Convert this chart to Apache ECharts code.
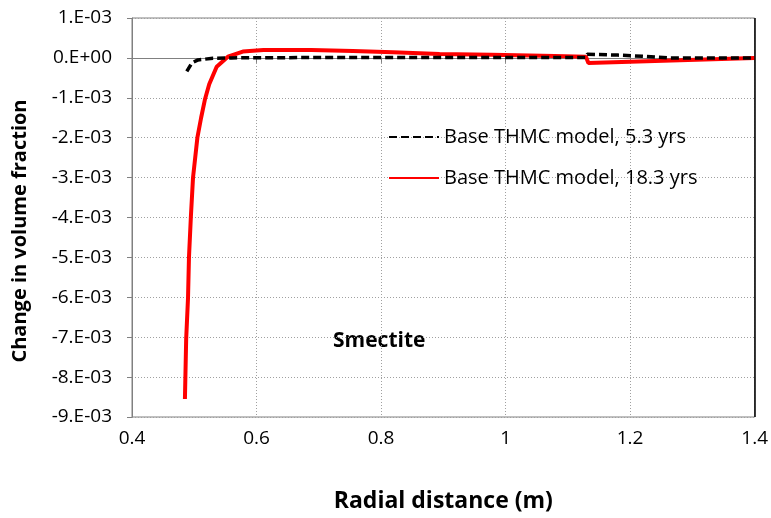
<!DOCTYPE html>
<html>
<head>
<meta charset="utf-8">
<script src="https://cdn.jsdelivr.net/npm/echarts@6/dist/echarts.min.js"></script>
<style>html,body{margin:0;padding:0;background:#fff}#c{width:771px;height:518px}</style>
</head>
<body>
<div id="c"></div>
<script>
// Radial distance (m) and change in volume fraction
const seriesNames = ['Base THMC model, 5.3 yrs', 'Base THMC model, 18.3 yrs'];
const x53 = [0.488, 0.496, 0.506, 0.53, 0.56, 0.7, 0.9, 1.1, 1.129, 1.131, 1.18, 1.22, 1.26, 1.3, 1.4];
const y53 = [-0.00034, -0.00013, -0.00005, -0.00001, 0.0, 0.00001, 0.00001, 0.00001, 0.00001, 0.00009, 0.00007, 0.00004, 0.0, 0.0, 0.0];
const x183 = [0.485, 0.487, 0.490, 0.4915, 0.4945, 0.498, 0.505, 0.511, 0.517, 0.524, 0.536, 0.554, 0.578, 0.611, 0.688, 0.689, 0.755, 0.756, 0.819, 0.82, 0.894, 0.895, 0.977, 0.978, 1.079, 1.08, 1.129, 1.133, 1.4];
const y183 = [-0.00855, -0.00705, -0.006, -0.005, -0.004, -0.003, -0.002, -0.0015, -0.00105, -0.00066, -0.00022, 0.00003, 0.00016, 0.0002, 0.0002, 0.00017, 0.00017, 0.00014, 0.00014, 0.0001, 0.0001, 0.00008, 0.00008, 0.00005, 0.00005, 0.00003, 0.00003, -0.00013, 0.0];
const yTicks = {min: -0.009, max: 0.001, interval: 0.001};
const xTicks = {min: 0.4, max: 1.4, interval: 0.2};
const annotation = 'Smectite';
const xTitle = 'Radial distance (m)';
const yTitle = 'Change in volume fraction';

const zip = (xs, ys) => xs.map((x, i) => [x, ys[i]]);
const font = '"Open Sans", "Liberation Sans", sans-serif';

const chart = echarts.init(document.getElementById('c'), null, {renderer: 'canvas'});
chart.setOption({
  animation: false,
  backgroundColor: '#fff',
  grid: {left: 132, right: 16, top: 18, bottom: 100, show: true, borderColor: '#808080', borderWidth: 1},
  legend: {
    orient: 'vertical', left: 383, top: 122, itemWidth: 50, itemHeight: 14, itemGap: 21,
    itemStyle: {opacity: 0},
    textStyle: {fontFamily: font, fontSize: 20, color: '#000'},
    data: seriesNames
  },
  xAxis: {
    type: 'value', min: xTicks.min, max: xTicks.max, interval: xTicks.interval,
    name: xTitle, nameLocation: 'middle', nameGap: 73,
    nameTextStyle: {fontFamily: font, fontSize: 23, fontWeight: 'bold', color: '#000'},
    axisLine: {show: true, lineStyle: {color: '#808080'}},
    axisTick: {show: true, inside: false, length: 5, lineStyle: {color: '#808080'}},
    axisLabel: {fontFamily: font, fontSize: 19, color: '#000', margin: 12,
      formatter: v => String(Math.round(v * 10) / 10)},
    splitLine: {show: true, lineStyle: {color: '#a0a0a0', type: [1, 2]}}
  },
  yAxis: {
    type: 'value', min: yTicks.min, max: yTicks.max, interval: yTicks.interval,
    axisLine: {show: true, lineStyle: {color: '#808080'}},
    axisTick: {show: true, inside: false, length: 5, lineStyle: {color: '#808080'}},
    axisLabel: {fontFamily: font, fontSize: 19, color: '#000', margin: 20,
      formatter: v => { const n = Math.round(v * 1000); return n === 0 ? '0.E+00' : n + '.E-03'; }},
    splitLine: {show: true, lineStyle: {color: '#a0a0a0', type: [1, 2]}}
  },
  graphic: [{
    type: 'text', left: 333, top: 331,
    style: {text: annotation, fontFamily: font, fontSize: 21, fontWeight: 'bold', fill: '#000'}
  }, {
    type: 'text', x: 20, y: 231, rotation: Math.PI / 2,
    style: {text: yTitle, fontFamily: font, fontSize: 20, fontWeight: 'bold', fill: '#000',
      align: 'center', verticalAlign: 'middle'}
  }],
  series: [
    {name: seriesNames[0], type: 'line', data: zip(x53, y53), symbol: 'none', z: 3,
      lineStyle: {color: '#000', width: 3.5, type: [8, 4]}, itemStyle: {color: '#000'},
      markLine: {silent: true, symbol: 'none', label: {show: false},
        lineStyle: {color: '#000', type: 'solid', width: 1.5}, data: [{xAxis: xTicks.max}]}},
    {name: seriesNames[1], type: 'line', data: zip(x183, y183), symbol: 'none', z: 2,
      lineStyle: {color: '#ff0000', width: 4}, itemStyle: {color: '#ff0000'}}
  ]
});
</script>
</body>
</html>
